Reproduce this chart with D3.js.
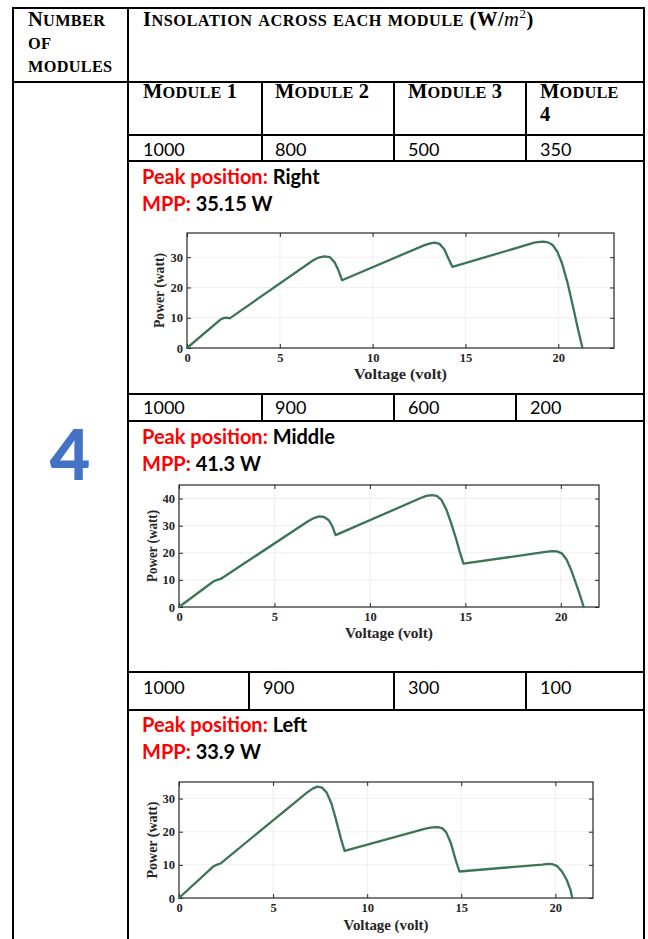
<!DOCTYPE html>
<html>
<head>
<meta charset="utf-8">
<script src="https://cdn.jsdelivr.net/npm/d3@7"></script>
<style>
  html, body { margin: 0; padding: 0; background: #fff; }
  svg { display: block; }
</style>
</head>
<body>
<svg id="chart" width="648" height="939"></svg>
<script>
// ---------------- DATA ----------------
const headerLeft = ["Number", "of", "modules"];
const headerRight = "Insolation across each module";
const moduleHeaders = ["Module 1", "Module 2", "Module 3", "Module"];
const moduleCount = "4";
const insolation1 = ["1000", "800", "500", "350"];
const insolation2 = ["1000", "900", "600", "200"];
const insolation3 = ["1000", "900", "300", "100"];
const peakPositions = ["Right", "Middle", "Left"];
const mppValues = ["35.15 W", "41.3 W", "33.9 W"];
const xTicks = [0, 5, 10, 15, 20];
const yTicks1 = [0, 10, 20, 30];
const yTicks2 = [0, 10, 20, 30, 40];
const yTicks3 = [0, 10, 20, 30];
const xLabel = "Voltage (volt)";
const yLabel = "Power (watt)";

// curve 1 : 1000 / 800 / 500 / 350
const voltage1 = [0, 1.8, 2.0, 2.15, 2.3, 6.8, 7.1, 7.4, 7.7, 7.95, 8.15, 8.35, 12.8, 13.1, 13.35, 13.6, 13.85, 14.05, 14.3, 18.7, 19.0, 19.2, 19.45, 19.7, 19.95, 20.2, 20.5, 20.8, 21.05, 21.3];
const power1   = [0, 9.4, 9.95, 10.05, 9.8, 29.0, 29.9, 30.3, 30.0, 28.3, 25.8, 22.4, 34.0, 34.6, 34.8, 34.4, 32.7, 30.0, 26.8, 34.8, 35.1, 35.15, 34.9, 34.0, 31.8, 28.0, 21.5, 13.5, 6.5, 0];
// curve 2 : 1000 / 900 / 600 / 200
const voltage2 = [0, 1.8, 2.0, 2.2, 6.8, 7.1, 7.35, 7.6, 7.85, 8.05, 8.2, 12.6, 12.95, 13.25, 13.5, 13.75, 14.0, 14.25, 14.5, 14.7, 14.9, 19.2, 19.55, 19.8, 20.05, 20.3, 20.55, 20.8, 21.0, 21.2];
const power2   = [0, 9.4, 10.0, 10.4, 31.8, 32.9, 33.4, 33.2, 32.0, 29.5, 26.5, 40.0, 41.0, 41.3, 41.0, 39.5, 36.0, 31.0, 25.5, 20.5, 16.0, 20.3, 20.6, 20.5, 19.8, 17.5, 13.5, 8.5, 4.5, 0];
// curve 3 : 1000 / 900 / 300 / 100
const voltage3 = [0, 1.8, 2.0, 2.2, 6.8, 7.1, 7.35, 7.6, 7.85, 8.1, 8.35, 8.6, 8.8, 13.1, 13.45, 13.75, 14.0, 14.2, 14.45, 14.7, 14.9, 19.3, 19.6, 19.85, 20.1, 20.35, 20.6, 20.8, 20.9];
const power3   = [0, 9.4, 10.0, 10.4, 31.8, 33.0, 33.6, 33.3, 31.8, 28.5, 23.5, 18.0, 14.2, 20.9, 21.3, 21.4, 21.0, 19.8, 16.5, 11.5, 8.0, 10.1, 10.3, 10.2, 9.6, 8.0, 5.5, 2.5, 0];

// ---------------- LAYOUT ----------------
const svg = d3.select("#chart");
const serif = "'Liberation Serif', 'Times New Roman', serif";
const sans = "Lato, 'Open Sans', sans-serif";
const L = 13, C = 128, R = 644, T = 8;
const BIG = 20.5, SMALL = 16.3;

// Small caps helper
function smallCaps(sel, text, big, small) {
  const words = text.split(" ");
  words.forEach((w, wi) => {
    for (let i = 0; i < w.length; i++) {
      const ch = w[i];
      const isUpper = ch === ch.toUpperCase() && ch !== ch.toLowerCase();
      const isDigit = /[0-9]/.test(ch);
      sel.append("tspan")
        .attr("font-size", (isUpper || isDigit) ? big : small)
        .text(ch.toUpperCase());
    }
    if (wi < words.length - 1) sel.append("tspan").attr("font-size", big).text(" ");
  });
}

// table lines
const lines = svg.append("g").attr("stroke", "#000").attr("stroke-width", 2);
const hline = (x1, x2, y) => lines.append("line").attr("x1", x1).attr("x2", x2).attr("y1", y).attr("y2", y);
const vline = (x, y1, y2) => lines.append("line").attr("x1", x).attr("x2", x).attr("y1", y1).attr("y2", y2);
hline(L - 1, R + 1, T);
hline(L - 1, R + 1, 82);
[135, 161, 394, 421, 672, 710].forEach(y => hline(C, R + 1, y));
vline(L, T, 939);
vline(C, T, 939);
vline(R, T, 939);
[262, 394, 526].forEach(x => vline(x, 82, 161));
[262, 394, 516].forEach(x => vline(x, 394, 421));
[249, 394, 526].forEach(x => vline(x, 672, 710));

// header
headerLeft.forEach((t, i) => {
  const tx = svg.append("text").attr("x", 28).attr("y", 26 + i * 23)
    .attr("font-family", serif).attr("font-weight", "bold").attr("fill", "#000")
    .attr("letter-spacing", 0.3);
  smallCaps(tx, i === 0 ? t : t.toLowerCase(), BIG, SMALL);
});
{
  const tx = svg.append("text").attr("x", 143).attr("y", 26)
    .attr("font-family", serif).attr("font-weight", "bold").attr("fill", "#000")
    .attr("letter-spacing", 0.5);
  smallCaps(tx, headerRight, BIG, SMALL);
  tx.append("tspan").attr("font-size", BIG).text(" (W/");
  tx.append("tspan").attr("font-size", BIG).attr("font-style", "italic").attr("font-weight", "normal").text("m");
  tx.append("tspan").attr("font-size", 13).attr("font-weight", "normal").attr("dy", -8).text("2");
  tx.append("tspan").attr("font-size", BIG).attr("dy", 8).text(")");
}
const modX = [143, 275, 408, 540];
moduleHeaders.forEach((m, i) => {
  const tx = svg.append("text").attr("x", modX[i]).attr("y", 98)
    .attr("font-family", serif).attr("font-weight", "bold").attr("fill", "#000")
    .attr("letter-spacing", 0.2);
  smallCaps(tx, m, BIG, SMALL);
});
svg.append("text").attr("x", 540).attr("y", 121).attr("font-family", serif)
  .attr("font-weight", "bold").attr("font-size", BIG).text(moduleCount);

// big 4
svg.append("text").attr("x", 70).attr("y", 480).attr("text-anchor", "middle")
  .attr("font-family", sans).attr("font-weight", "900").attr("font-size", 70)
  .attr("fill", "#4472C4").text(moduleCount);

// value rows
function valueRow(vals, xs, y) {
  vals.forEach((v, i) => svg.append("text").attr("x", xs[i]).attr("y", y)
    .attr("font-family", sans).attr("font-size", 18).attr("fill", "#000").text(v));
}
valueRow(insolation1, [143, 275, 408, 540], 156);
valueRow(insolation2, [143, 275, 408, 530], 414);
valueRow(insolation3, [143, 263, 408, 540], 694);

function peakText(i, y1, y2) {
  const t1 = svg.append("text").attr("x", 142).attr("y", y1).attr("font-family", sans)
    .attr("font-weight", "bold").attr("font-size", 20);
  t1.append("tspan").attr("fill", "#ff0000").text("Peak position: ");
  t1.append("tspan").attr("fill", "#000").text(peakPositions[i]);
  const t2 = svg.append("text").attr("x", 142).attr("y", y2).attr("font-family", sans)
    .attr("font-weight", "bold").attr("font-size", 20);
  t2.append("tspan").attr("fill", "#ff0000").text("MPP: ");
  t2.append("tspan").attr("fill", "#000").text(mppValues[i]);
}
peakText(0, 184, 211);
peakText(1, 444, 471);
peakText(2, 732, 759);

// charts
function drawChart(cfg) {
  const { left, right, top, bottom, xMax, yMax, yTicks, vx, py, yLabX, xLabY, xLabW, yLabW } = cfg;
  const x = d3.scaleLinear().domain([0, xMax]).range([left, right]);
  const y = d3.scaleLinear().domain([0, yMax]).range([bottom, top]);
  const g = svg.append("g");
  // grid
  g.append("g").selectAll("line").data(xTicks.slice(1)).join("line")
    .attr("x1", d => x(d)).attr("x2", d => x(d)).attr("y1", top).attr("y2", bottom)
    .attr("stroke", "#e9e9e9").attr("stroke-width", 0.7);
  g.append("g").selectAll("line").data(yTicks.slice(1)).join("line")
    .attr("y1", d => y(d)).attr("y2", d => y(d)).attr("x1", left).attr("x2", right)
    .attr("stroke", "#e9e9e9").attr("stroke-width", 0.7);
  // axes
  const axFont = (sel) => sel.selectAll("text").attr("font-family", serif)
    .attr("font-weight", "bold").attr("font-size", 12.5).attr("fill", "#262626");
  const ax = (sel) => { sel.select(".domain").remove(); sel.selectAll("line").attr("stroke", "#262626"); };
  const xb = g.append("g").attr("transform", `translate(0,${bottom})`)
    .call(d3.axisBottom(x).tickValues(xTicks).tickSize(-4).tickPadding(5).tickFormat(d3.format("d")));
  ax(xb); axFont(xb);
  const xt = g.append("g").attr("transform", `translate(0,${top})`)
    .call(d3.axisTop(x).tickValues(xTicks).tickSize(-4).tickFormat(""));
  ax(xt);
  const yl = g.append("g").attr("transform", `translate(${left},0)`)
    .call(d3.axisLeft(y).tickValues(yTicks).tickSize(-4).tickPadding(4).tickFormat(d3.format("d")));
  ax(yl); axFont(yl);
  const yr = g.append("g").attr("transform", `translate(${right},0)`)
    .call(d3.axisRight(y).tickValues(yTicks).tickSize(-4).tickFormat(""));
  ax(yr);
  g.append("rect").attr("x", left).attr("y", top).attr("width", right - left).attr("height", bottom - top)
    .attr("fill", "none").attr("stroke", "#262626").attr("stroke-width", 1.2);
  // line
  const pts = vx.map((v, i) => [v, py[i]]);
  g.append("path").datum(pts)
    .attr("d", d3.line().x(d => x(d[0])).y(d => y(d[1])).curve(d3.curveLinear))
    .attr("fill", "none").attr("stroke", "#3b7556").attr("stroke-width", 2.3)
    .attr("stroke-linejoin", "round").attr("stroke-linecap", "round");
  // labels
  g.append("text").attr("x", (left + right) / 2).attr("y", xLabY).attr("text-anchor", "middle")
    .attr("font-family", serif).attr("font-weight", "bold").attr("font-size", 14).attr("fill", "#262626")
    .attr("textLength", xLabW).attr("lengthAdjust", "spacingAndGlyphs")
    .text(xLabel);
  g.append("text").attr("transform", `translate(${yLabX},${(top + bottom) / 2}) rotate(-90)`)
    .attr("text-anchor", "middle").attr("font-family", serif).attr("font-weight", "bold")
    .attr("font-size", 14).attr("fill", "#262626")
    .attr("textLength", yLabW).attr("lengthAdjust", "spacingAndGlyphs")
    .text(yLabel);
}

drawChart({ left: 187, right: 614, top: 233, bottom: 348, xMax: 23, yMax: 38, yTicks: yTicks1,
  vx: voltage1, py: power1, yLabX: 164, xLabY: 379, xLabW: 93, yLabW: 75 });
drawChart({ left: 179, right: 599, top: 485, bottom: 607, xMax: 22, yMax: 45, yTicks: yTicks2,
  vx: voltage2, py: power2, yLabX: 157, xLabY: 638, xLabW: 88, yLabW: 72 });
drawChart({ left: 179, right: 593, top: 782, bottom: 898, xMax: 22, yMax: 35, yTicks: yTicks3,
  vx: voltage3, py: power3, yLabX: 157, xLabY: 930, xLabW: 85, yLabW: 77 });
</script>
</body>
</html>
